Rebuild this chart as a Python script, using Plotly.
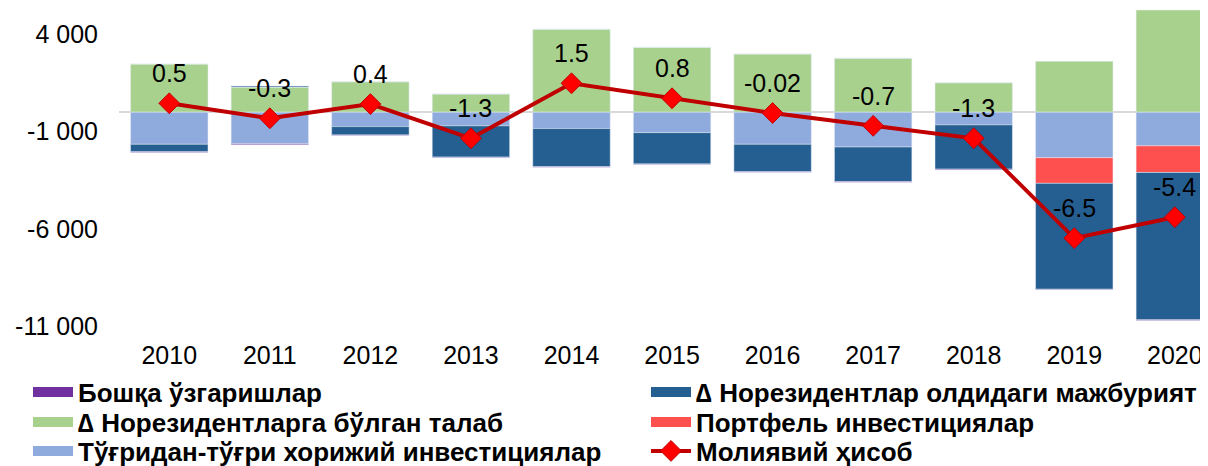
import plotly.graph_objects as go

years = ["2010", "2011", "2012", "2013", "2014", "2015", "2016", "2017", "2018", "2019", "2020"]

# values in million USD
claims_nonres = [2480, 1300, 1570, 940, 4270, 3340, 3000, 2780, 1520, 2620, 5260]        # green
fdi = [-1650, -1620, -740, -700, -840, -1050, -1650, -1790, -650, -2340, -1730]           # light blue
portfolio = [0, 0, 0, 0, 0, 0, 0, 0, 0, -1320, -1370]                                    # red
liabilities = [-380, 50, -430, -1610, -1960, -1610, -1410, -1780, -2280, -5450, -7580]   # dark blue
other_changes = [-40, -50, -30, -30, -30, -30, -30, -30, -40, -30, -40]                  # purple
financial_account = [460, -310, 420, -1340, 1490, 720, -40, -700, -1340, -6480, -5400]   # line
fa_labels = ["0.5", "-0.3", "0.4", "-1.3", "1.5", "0.8", "-0.02", "-0.7", "-1.3", "-6.5", "-5.4"]

y_tickvals = [-11000, -6000, -1000, 4000]
y_ticktext = ["-11 000", "-6 000", "-1 000", "4 000"]

name_other = "Бошқа ўзгаришлар"
name_claims = "∆ Норезидентларга бўлган талаб"
name_fdi = "Тўғридан-тўғри хорижий инвестициялар"
name_liab = "∆ Норезидентлар олдидаги мажбурият"
name_port = "Портфель инвестициялар"
name_fa = "Молиявий ҳисоб"

C_GREEN = "#A9D18E"
C_LBLUE = "#8FAADC"
C_RED = "#FF5050"
C_DBLUE = "#255E91"
C_PURPLE = "#7030A0"
C_LINE = "#C00000"

FONT = "Liberation Sans, Arial"
W, H = 1200, 458  # page adds an 8px body margin

fig = go.Figure()
bw = 0.77
bar_specs = [
    (claims_nonres, name_claims, C_GREEN, "legend2"),
    (fdi, name_fdi, C_LBLUE, "legend3"),
    (portfolio, name_port, C_RED, "legend5"),
    (liabilities, name_liab, C_DBLUE, "legend4"),
    (other_changes, name_other, C_PURPLE, "legend"),
]
for vals, nm, col, lg in bar_specs:
    fig.add_trace(go.Bar(x=years, y=vals, name=nm, marker_color=col, width=bw,
                         showlegend=False, legendgroup=nm))

fig.add_trace(go.Scatter(x=years, y=financial_account, name=name_fa, mode="lines+markers",
                         line=dict(color=C_LINE, width=4),
                         marker=dict(symbol="diamond", size=16, color="#FF0000",
                                     line=dict(color=C_LINE, width=1)),
                         legend="legend6"))

# legend proxies: wide rectangular swatches for the bar series
for vals, nm, col, lg in bar_specs:
    fig.add_trace(go.Scatter(x=[years[0]], y=[None], name=nm, mode="lines",
                             line=dict(color=col, width=12), legend=lg, legendgroup=nm,
                             hoverinfo="skip"))

for i, (v, t) in enumerate(zip(financial_account, fa_labels)):
    fig.add_annotation(x=i, y=v, xref="x", yref="y", text=t, showarrow=False, yshift=30,
                       font=dict(family=FONT, size=25, color="#000000"))

def lg(xpx, ypx):
    return dict(orientation="v", bgcolor="rgba(0,0,0,0)", borderwidth=0,
                font=dict(family=FONT, size=26, color="#000000", weight="bold"),
                xref="container", yref="container", x=xpx / W, y=1 - ypx / H,
                xanchor="left", yanchor="middle", itemwidth=40)

LX, RX = 20, 638
R1, R2, R3 = 384, 414, 443

fig.update_layout(
    width=W, height=H,
    margin=dict(l=111, r=0, t=0, b=140, autoexpand=False),
    paper_bgcolor="#FFFFFF", plot_bgcolor="#FFFFFF",
    barmode="relative",
    font=dict(family=FONT, size=25, color="#000000"),
    showlegend=True,
    legend=lg(LX, R1), legend2=lg(LX, R2), legend3=lg(LX, R3),
    legend4=lg(RX, R1), legend5=lg(RX, R2), legend6=lg(RX, R3),
    xaxis=dict(type="category", range=[-0.5, 10.33], showgrid=False, zeroline=False,
               showline=False, ticks="", ticklabelstandoff=12, tickfont=dict(size=25)),
    yaxis=dict(range=[-11000, 5364], tickvals=y_tickvals, ticktext=y_ticktext,
               showgrid=False, zeroline=True, zerolinecolor="#D9D9D9", zerolinewidth=2,
               showline=False, ticks="", ticklabelstandoff=20, tickfont=dict(size=25)),
)

fig.write_html("out.html")
